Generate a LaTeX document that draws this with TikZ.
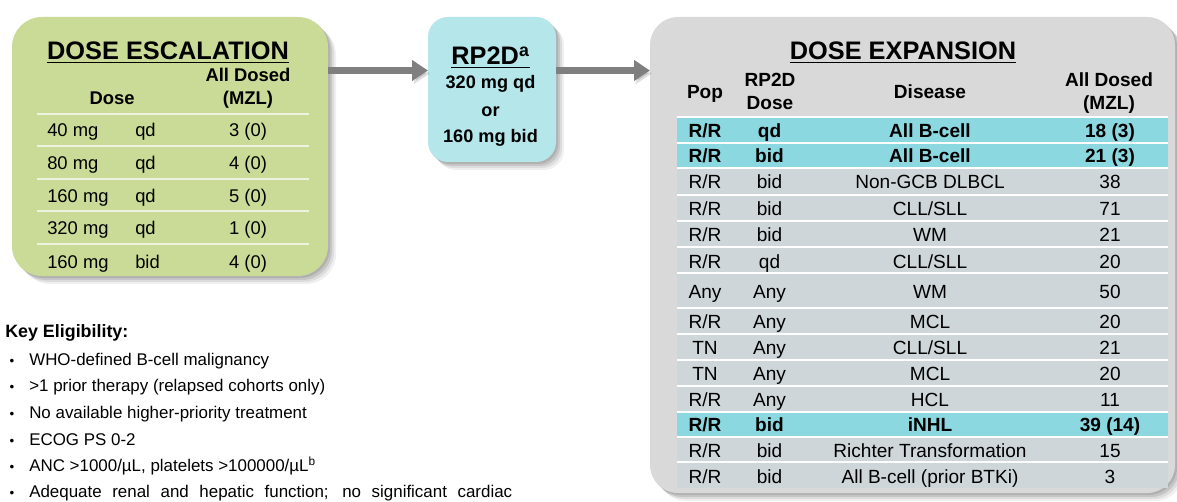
\documentclass[tikz,border=0pt]{standalone}
\usepackage{fontspec}
\setmainfont{Liberation Sans}
\usetikzlibrary{arrows.meta}

\definecolor{escgreen}{HTML}{C9DB96}
\definecolor{rpcyan}{HTML}{B4E6EA}
\definecolor{expgray}{HTML}{D9D9D9}
\definecolor{rowgray}{HTML}{CED6DA}
\definecolor{rowcyan}{HTML}{8CD8E0}
\definecolor{arrowgray}{HTML}{7F7F7F}
\definecolor{sepgreen}{HTML}{EEF3DF}

% one row of the expansion table: style, name, baseline, pop, dose, disease, count
\newcommand\exprow[7]{%
  \node[#1] (#2pop) at (705,#3) {#4};
  \node[#1] (#2dose) at (769.5,#3) {#5};
  \node[#1] (#2dis) at (930,#3) {#6};
  \node[#1] (#2n) at (1110,#3) {#7};}

% one row of the escalation table: name, baseline, dose, schedule, count
\newcommand\escrow[5]{%
  \node[esccell,anchor=base west] (#1mg) at (47,#2) {#3};
  \node[esccell,anchor=base west] (#1sch) at (135,#2) {#4};
  \node[esccell] (#1n) at (248,#2) {#5};}

\begin{document}
\begin{tikzpicture}[x=0.75pt,y=-0.75pt,
  softshadow/.style={
    preaction={fill=black,opacity=.06,transform canvas={shift={(8,8)}}},
    preaction={fill=black,opacity=.08,transform canvas={shift={(6,6)}}},
    preaction={fill=black,opacity=.10,transform canvas={shift={(4,4)}}},
    preaction={fill=black,opacity=.10,transform canvas={shift={(2,2)}}}},
  panel/.style={draw=none,inner sep=0pt,outer sep=0pt,softshadow},
  arr/.style={draw=arrowgray,line width=5.25pt,
    -{Triangle[width=15pt,length=12pt]},
    preaction={draw=black,opacity=.12,transform canvas={shift={(2,3)}}}},
  ttl/.style={font=\bfseries\fontsize{19}{22}\selectfont,inner sep=0pt,anchor=base},
  uline/.style={line width=1.4pt},
  esccell/.style={font=\fontsize{13.8}{16}\selectfont,inner sep=0pt,anchor=base},
  eschdr/.style={font=\bfseries\fontsize{13.8}{16}\selectfont,inner sep=0pt,anchor=base},
  rptxt/.style={font=\bfseries\fontsize{13.6}{16}\selectfont,inner sep=0pt,anchor=base},
  cell/.style={font=\fontsize{14.3}{16}\selectfont,inner sep=0pt,anchor=base},
  bcell/.style={font=\bfseries\fontsize{14.3}{16}\selectfont,inner sep=0pt,anchor=base},
  escsep/.style={draw=sepgreen,line width=1.2pt},
  rowsep/.style={draw=white,line width=1.5pt},
  elig/.style={font=\fontsize{12.7}{15}\selectfont,inner sep=0pt,anchor=base west},
  bul/.style={font=\fontsize{10}{12}\selectfont,inner sep=0pt,anchor=base}]

\useasboundingbox (0,0) rectangle (1177,502);
\fill[white] (0,0) rectangle (1177,502);

% ---- panels ----
\node[panel,fill=escgreen,minimum width=237pt,minimum height=194.25pt,
      rounded corners=22.5pt] (esc) at (170,146.5) {};
\node[panel,fill=rpcyan,minimum width=96pt,minimum height=108.75pt,
      rounded corners=15pt] (rp) at (492,89.5) {};
\node[panel,fill=expgray,minimum width=393.75pt,minimum height=357pt,
      rounded corners=21pt] (exp) at (912.5,255) {};

% ---- connectors ----
\coordinate (lvl) at (0,70.5);
\draw[arr] (esc.east |- lvl) -- (rp.west |- lvl);
\draw[arr] (rp.east |- lvl) -- (exp.west |- lvl);

% ---- dose escalation ----
\node[ttl] (esct) at (168,60) {DOSE ESCALATION};
\draw[uline] ([yshift=-1.9pt]esct.base west) -- ([yshift=-1.9pt]esct.base east);
\node[eschdr] (escall) at (248,82) {All Dosed};
\node[eschdr] (escmzl) at (248,104.5) {(MZL)};
\node[eschdr] (escdose) at (112,104.5) {Dose};
\foreach \y in {114,146,179,211,244}
  \draw[escsep] (37,\y) -- (309,\y);
\escrow{ra}{137}{40 mg}{qd}{3 (0)}
\escrow{rb}{170}{80 mg}{qd}{4 (0)}
\escrow{rc}{203}{160 mg}{qd}{5 (0)}
\escrow{rd}{235}{320 mg}{qd}{1 (0)}
\escrow{re}{268}{160 mg}{bid}{4 (0)}

% ---- recommended phase 2 dose ----
\node[ttl] (rpt) at (490.5,65) {RP2D\textsuperscript{a}};
\draw[uline] ([yshift=-1.9pt]rpt.base west) -- ([yshift=-1.9pt]rpt.base east);
\node[rptxt] (rp1) at (490.5,89) {320 mg qd};
\node[rptxt] (rp2) at (490.5,117) {or};
\node[rptxt] (rp3) at (490.5,143) {160 mg bid};

% ---- dose expansion ----
\node[ttl] (expt) at (903,60) {DOSE EXPANSION};
\draw[uline] ([yshift=-1.9pt]expt.base west) -- ([yshift=-1.9pt]expt.base east);
\node[bcell] (hpop) at (705,99) {Pop};
\node[bcell] (hrp) at (770,87) {RP2D};
\node[bcell] (hdose) at (770,110) {Dose};
\node[bcell] (hdis) at (930,99) {Disease};
\node[bcell] (hall) at (1109,87) {All Dosed};
\node[bcell] (hmzl) at (1109,110) {(MZL)};

\foreach \t/\b/\c in {117/143/rowcyan,143/168/rowcyan,168/195/rowgray,
    195/221/rowgray,221/247/rowgray,247/273/rowgray,273/308/rowgray,
    308/334/rowgray,334/360/rowgray,360/386/rowgray,386/412/rowgray,
    412/437/rowcyan,437/462/rowgray,462/488/rowgray}
  \fill[\c] (677,\t) rectangle (1168,\b);
\foreach \y in {117,143,168,195,221,247,273,308,334,360,386,412,437,462}
  \draw[rowsep] (677,\y) -- (1168,\y);

\exprow{bcell}{xa}{138}{R/R}{qd}{All B-cell}{18 (3)}
\exprow{bcell}{xb}{163}{R/R}{bid}{All B-cell}{21 (3)}
\exprow{cell}{xc}{189}{R/R}{bid}{Non-GCB DLBCL}{38}
\exprow{cell}{xd}{215.5}{R/R}{bid}{CLL/SLL}{71}
\exprow{cell}{xe}{242}{R/R}{bid}{WM}{21}
\exprow{cell}{xf}{268.5}{R/R}{qd}{CLL/SLL}{20}
\exprow{cell}{xg}{298.5}{Any}{Any}{WM}{50}
\exprow{cell}{xh}{328.5}{R/R}{Any}{MCL}{20}
\exprow{cell}{xi}{354.5}{TN}{Any}{CLL/SLL}{21}
\exprow{cell}{xj}{380}{TN}{Any}{MCL}{20}
\exprow{cell}{xk}{406}{R/R}{Any}{HCL}{11}
\exprow{bcell}{xl}{431.5}{R/R}{bid}{iNHL}{39 (14)}
\exprow{cell}{xm}{457}{R/R}{bid}{Richter Transformation}{15}
\exprow{cell}{xn}{483.5}{R/R}{bid}{All B-cell (prior BTKi)}{3}

% ---- eligibility ----
\node[font=\bfseries\fontsize{13.4}{16}\selectfont,inner sep=0pt,anchor=base west]
  (key) at (5,337) {Key Eligibility:};
\foreach \n/\y in {1/365,2/391.5,3/418,4/445,5/471.5,6/497.5}
  \node[bul] (b\n) at (12,\y) {•};
\node[elig] (e1) at (29,365) {WHO-defined B-cell malignancy};
\node[elig] (e2) at (29,391.5) {>1 prior therapy (relapsed cohorts only)};
\node[elig] (e3) at (29,418) {No available higher-priority treatment};
\node[elig] (e4) at (29,445) {ECOG PS 0-2};
\node[elig] (e5) at (29,471.5) {ANC >1000/µL, platelets >100000/µL\textsuperscript{b}};
% justified line of a paragraph that continues below the picture
\node[elig] (e6) at (29,497.5)
  {\makebox[362.25pt][s]{Adequate renal and hepatic function; no significant cardiac}};
\end{tikzpicture}
\end{document}
